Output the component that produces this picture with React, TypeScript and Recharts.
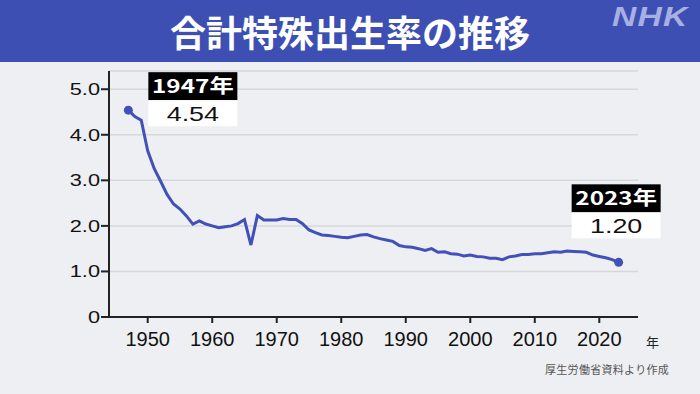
import React from 'react'
import { LineChart, Line, XAxis, YAxis, CartesianGrid } from 'recharts'

// 合計特殊出生率 (厚生労働省)
const years = [
  1947, 1948, 1949, 1950, 1951, 1952, 1953, 1954, 1955, 1956, 1957, 1958, 1959,
  1960, 1961, 1962, 1963, 1964, 1965, 1966, 1967, 1968, 1969, 1970, 1971, 1972,
  1973, 1974, 1975, 1976, 1977, 1978, 1979, 1980, 1981, 1982, 1983, 1984, 1985,
  1986, 1987, 1988, 1989, 1990, 1991, 1992, 1993, 1994, 1995, 1996, 1997, 1998,
  1999, 2000, 2001, 2002, 2003, 2004, 2005, 2006, 2007, 2008, 2009, 2010, 2011,
  2012, 2013, 2014, 2015, 2016, 2017, 2018, 2019, 2020, 2021, 2022, 2023,
]
const rates = [
  4.54, 4.4, 4.32, 3.65, 3.26, 2.98, 2.69, 2.48, 2.37, 2.22, 2.04, 2.11, 2.04,
  2.0, 1.96, 1.98, 2.0, 2.05, 2.14, 1.58, 2.23, 2.13, 2.13, 2.13, 2.16, 2.14,
  2.14, 2.05, 1.91, 1.85, 1.8, 1.79, 1.77, 1.75, 1.74, 1.77, 1.8, 1.81, 1.76,
  1.72, 1.69, 1.66, 1.57, 1.54, 1.53, 1.5, 1.46, 1.5, 1.42, 1.43, 1.39, 1.38,
  1.34, 1.36, 1.33, 1.32, 1.29, 1.29, 1.26, 1.32, 1.34, 1.37, 1.37, 1.39, 1.39,
  1.41, 1.43, 1.42, 1.45, 1.44, 1.43, 1.42, 1.36, 1.33, 1.3, 1.26, 1.2,
]
const xTicks = [1950, 1960, 1970, 1980, 1990, 2000, 2010, 2020]
const yTicks = [0, 1, 2, 3, 4, 5]

const data = years.map((y, i) => ({ year: y, rate: rates[i] }))

const BLUE = '#4151b8'
const NUM_FONT = '"Liberation Sans", Arial, "Noto Sans CJK JP", sans-serif'
const JP_FONT = '"Noto Sans CJK JP", sans-serif'

// the reference's lettering is a little wider than Arial, so stretch it
function WideText({ x, y, size, children, anchor = 'middle', fill = '#111', bold = false, font = NUM_FONT }: any) {
  return (
    <g transform={`translate(${x},${y}) scale(1.28,1)`}>
      <text x={0} y={0} textAnchor={anchor} fill={fill} fontSize={size} fontWeight={bold ? 'bold' : 'normal'} fontFamily={font}>
        {children}
      </text>
    </g>
  )
}

function YTick(props: any) {
  const { x, y, payload } = props
  const v = payload.value as number
  return (
    <WideText x={x} y={y + 6} size={17} anchor="end">
      {v === 0 ? '0' : v.toFixed(1)}
    </WideText>
  )
}

function EndDot(props: any) {
  const { cx, cy, index } = props
  const last = data.length - 1
  if (index !== 0 && index !== last) return <g key={`d${index}`} />
  const d = data[index]
  // first label sits to the right of the point, last one above it
  const bx = index === 0 ? cx + 20 : cx - 47
  const by = index === 0 ? cy - 38 : cy - 78
  const w = 89
  return (
    <g key={`d${index}`}>
      <circle cx={cx} cy={cy} r={4.5} fill={BLUE} />
      <rect x={bx} y={by} width={w} height={28} fill="#000" />
      <rect x={bx} y={by + 28} width={w} height={26} fill="#fff" />
      <WideText x={bx + w / 2} y={by + 21} size={19} fill="#fff" bold font={JP_FONT}>
        {`${d.year}年`}
      </WideText>
      <WideText x={bx + w / 2} y={by + 49} size={21}>
        {d.rate.toFixed(2)}
      </WideText>
    </g>
  )
}

export default function App() {
  return (
    <div style={{ position: 'absolute', left: 0, top: 0, width: 700, height: 394, background: '#eeeff2', overflow: 'hidden' }}>
      <div
        style={{
          position: 'absolute', left: 0, top: 0, width: 700, height: 62,
          background: '#3d4fb2', color: '#fff', fontFamily: JP_FONT,
          fontWeight: 'bold', fontSize: 36, lineHeight: '62px', textAlign: 'center',
        }}
      >
        合計特殊出生率の推移
      </div>
      <div
        style={{
          position: 'absolute', left: 612, top: 1, color: '#a8afe3',
          fontFamily: NUM_FONT, fontWeight: 'bold', fontStyle: 'italic',
          fontSize: 28, letterSpacing: 1, transform: 'scaleX(1.2)', transformOrigin: 'left top',
        }}
      >
        NHK
      </div>
      <div style={{ position: 'absolute', left: 0, top: 0 }}>
        <LineChart
          width={700}
          height={394}
          data={data}
          margin={{ top: 71, right: 62, bottom: 37, left: 49 }}
        >
          <CartesianGrid horizontal vertical={false} stroke="#d6d7db" strokeWidth={1.5} />
          <XAxis
            dataKey="year"
            type="number"
            domain={[1944, 2026]}
            ticks={xTicks}
            height={40}
            tickSize={6}
            tickMargin={9}
            axisLine={{ stroke: '#222', strokeWidth: 2 }}
            tickLine={{ stroke: '#222', strokeWidth: 2 }}
            tick={{ fill: '#111', fontSize: 20, fontFamily: NUM_FONT }}
          />
          <YAxis
            type="number"
            domain={[0, 5.4]}
            ticks={yTicks}
            width={60}
            tickSize={8}
            tickMargin={1}
            axisLine={{ stroke: '#222', strokeWidth: 2 }}
            tickLine={{ stroke: '#222', strokeWidth: 2 }}
            tick={<YTick />}
          />
          <Line
            type="linear"
            dataKey="rate"
            stroke={BLUE}
            strokeWidth={3}
            dot={EndDot}
            activeDot={false}
            isAnimationActive={false}
          />
        </LineChart>
      </div>
      <div style={{ position: 'absolute', left: 646, top: 332, fontSize: 13, fontFamily: JP_FONT, color: '#222' }}>年</div>
      <div style={{ position: 'absolute', left: 545, top: 361, fontSize: 11, fontFamily: JP_FONT, color: '#555', letterSpacing: 0.3 }}>
        厚生労働省資料より作成
      </div>
    </div>
  )
}
